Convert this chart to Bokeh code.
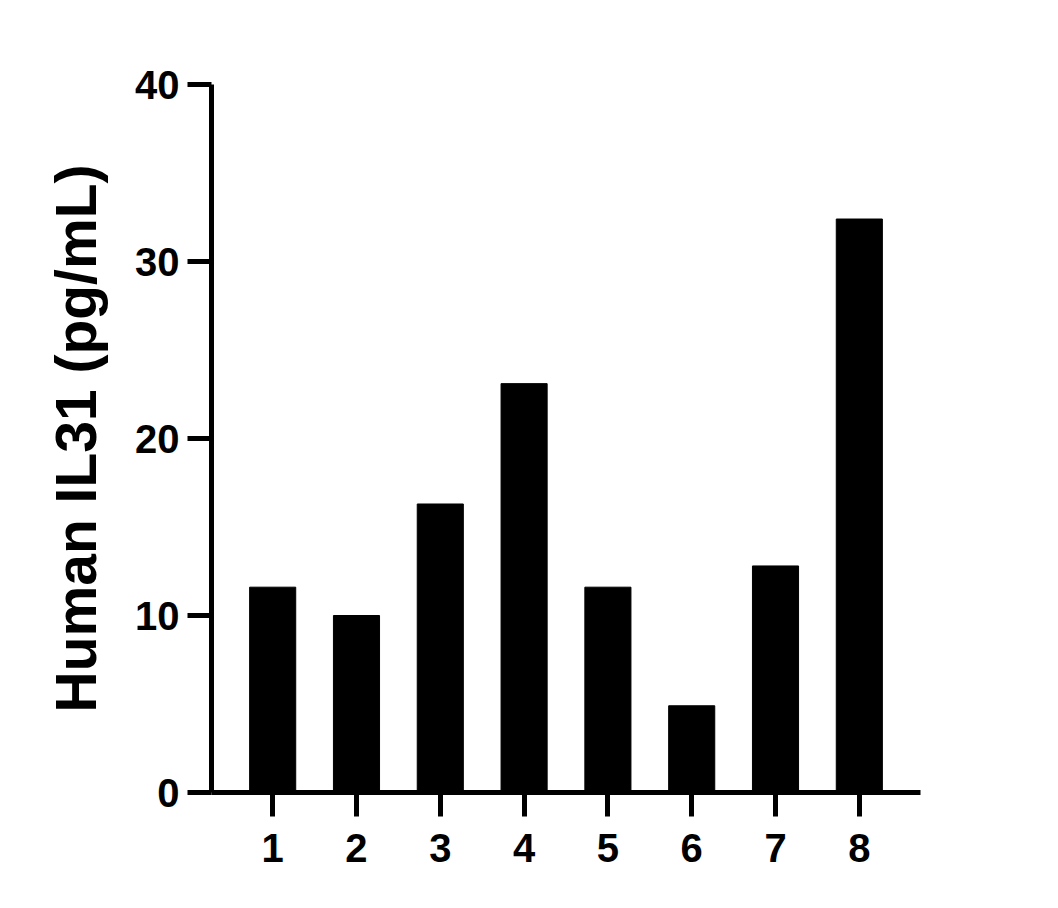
from bokeh.plotting import figure
from bokeh.models import Range1d, FixedTicker
from bokeh.embed import file_html
from bokeh.resources import INLINE

samples = [1, 2, 3, 4, 5, 6, 7, 8]
values = [11.6, 10.0, 16.3, 23.1, 11.6, 4.9, 12.8, 32.4]
y_ticks = [0, 10, 20, 30, 40]

p = figure(output_backend="svg", toolbar_location=None,
           frame_width=709, frame_height=708,
           min_border_left=211, min_border_right=110,
           min_border_top=84, min_border_bottom=96,
           x_range=Range1d(0.27, 8.73), y_range=Range1d(0, 40))

p.vbar(x=samples, top=values, width=0.55, bottom=0,
       fill_color="black", line_color="black")

p.xgrid.visible = False
p.ygrid.visible = False
p.outline_line_color = None
p.background_fill_color = "white"
p.border_fill_color = "white"

font = "Liberation Sans"
for ax in (p.xaxis[0], p.yaxis[0]):
    ax.axis_line_width = 5
    ax.axis_line_color = "black"
    ax.major_tick_line_width = 5
    ax.major_tick_line_color = "black"
    ax.major_tick_out = 24
    ax.major_tick_in = 0
    ax.minor_tick_line_color = None
    ax.major_label_text_font = font
    ax.major_label_text_font_style = "bold"
    ax.major_label_text_font_size = "40px"
    ax.major_label_text_color = "black"

p.xaxis.ticker = FixedTicker(ticks=samples)
p.xaxis.major_label_standoff = 17
p.yaxis.ticker = FixedTicker(ticks=y_ticks)
p.yaxis.major_label_standoff = 8
p.yaxis.axis_label = "Human IL31 (pg/mL)"
p.yaxis.axis_label_text_font = font
p.yaxis.axis_label_text_font_style = "bold"
p.yaxis.axis_label_text_font_size = "57px"
p.yaxis.axis_label_text_color = "black"
p.yaxis.axis_label_standoff = 24

open("out.html", "w").write(file_html(p, INLINE))
